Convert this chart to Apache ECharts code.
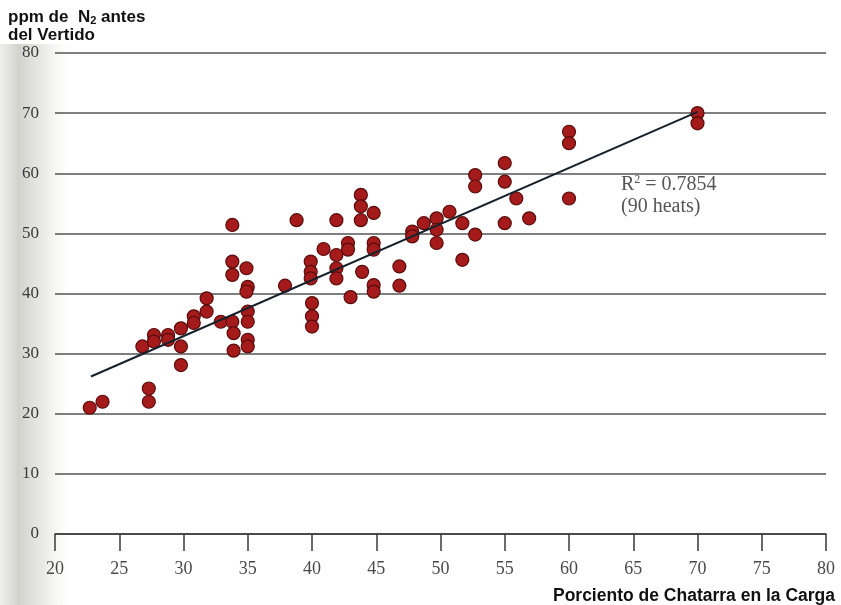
<!DOCTYPE html>
<html>
<head>
<meta charset="utf-8">
<script src="https://cdn.jsdelivr.net/npm/echarts@6/dist/echarts.min.js"></script>
<style>
  html, body { margin: 0; padding: 0; background: #ffffff; }
  #chart { width: 841px; height: 605px; }
</style>
</head>
<body>
<div id="chart"></div>
<script>
// Scrap percentage in the charge (x) and N2 ppm before tapping (y), one entry per heat
const scrapPct = [
  22.7, 23.7, 27.3, 27.3, 26.8, 27.7, 27.7, 28.8, 28.8, 29.8,
  29.8, 29.8, 30.8, 30.8, 31.8, 31.8, 32.9, 33.8, 33.9, 33.9,
  35.0, 35.0, 35.0, 35.0, 35.0, 33.8, 33.8, 33.8, 34.9, 34.9,
  37.9, 38.8, 39.9, 39.9, 39.9, 40.0, 40.0, 40.0, 40.9, 41.9,
  41.9, 41.9, 41.9, 42.8, 42.8, 43.0, 43.8, 43.8, 43.8, 43.9,
  44.8, 44.8, 44.8, 44.8, 44.8, 46.8, 46.8, 47.8, 47.8, 48.7,
  49.7, 49.7, 49.7, 50.7, 51.7, 51.7, 52.7, 52.7, 52.7, 55.0,
  55.0, 55.0, 55.9, 56.9, 60.0, 60.0, 60.0, 70.0, 70.0
];
const n2Ppm = [
  21.0, 22.0, 24.2, 22.0, 31.2, 33.1, 32.0, 33.1, 32.3, 34.2,
  31.2, 28.1, 36.2, 35.1, 39.2, 37.0, 35.3, 35.3, 33.4, 30.5,
  41.1, 37.0, 35.3, 32.3, 31.2, 51.4, 45.3, 43.1, 44.2, 40.3,
  41.3, 52.2, 45.3, 43.6, 42.5, 38.4, 36.2, 34.5, 47.4, 52.2,
  46.4, 44.2, 42.5, 48.4, 47.3, 39.4, 56.4, 54.5, 52.2, 43.6,
  53.4, 48.4, 47.3, 41.4, 40.3, 44.5, 41.3, 50.3, 49.5, 51.7,
  52.5, 50.6, 48.4, 53.6, 51.7, 45.6, 49.8, 59.7, 57.8, 61.7,
  58.6, 51.7, 55.8, 52.5, 66.9, 65.0, 55.8, 70.0, 68.3
];

// Fitted trend line, drawn between its two end points
const trendX = [22.8, 70];
const trendY = [26.2, 70.2];

// Axis tick values
const xTicks = [20, 25, 30, 35, 40, 45, 50, 55, 60, 65, 70, 75, 80];
const yTicks = [0, 10, 20, 30, 40, 50, 60, 70, 80];

const points = scrapPct.map((x, i) => [x, n2Ppm[i]]);
const trend = trendX.map((x, i) => [x, trendY[i]]);

const serif = '"Liberation Serif", "DejaVu Serif", serif';
const sans = '"Liberation Sans", Arial, sans-serif';

const chart = echarts.init(document.getElementById('chart'), null, { renderer: 'canvas' });

chart.setOption({
  animation: false,
  backgroundColor: '#ffffff',
  grid: { left: 55, right: 15, top: 53, bottom: 71, containLabel: false },
  xAxis: {
    type: 'value',
    min: xTicks[0],
    max: xTicks[xTicks.length - 1],
    interval: xTicks[1] - xTicks[0],
    axisLine: { show: true, onZero: false, lineStyle: { color: '#3a3a3a', width: 1.6 } },
    axisTick: { show: true, length: 17, lineStyle: { color: '#3a3a3a', width: 1.5 } },
    axisLabel: { margin: 26, fontFamily: serif, fontSize: 18, color: '#4a4a4a' },
    splitLine: { show: false }
  },
  yAxis: {
    type: 'value',
    min: yTicks[0],
    max: yTicks[yTicks.length - 1],
    interval: yTicks[1] - yTicks[0],
    axisLine: { show: false },
    axisTick: { show: false },
    axisLabel: { margin: 16, fontFamily: serif, fontSize: 17, color: '#3a3a3a' },
    splitLine: { show: true, lineStyle: { color: '#555', width: 1.6 } }
  },
  graphic: [
    {
      // shaded strip along the left edge
      type: 'rect',
      z: -10,
      silent: true,
      shape: { x: 0, y: 44, width: 75, height: 561 },
      style: {
        fill: new echarts.graphic.LinearGradient(0, 0, 1, 0, [
          { offset: 0, color: 'rgba(220,220,214,0.5)' },
          { offset: 0.25, color: 'rgba(195,195,188,0.75)' },
          { offset: 0.6, color: 'rgba(215,215,210,0.5)' },
          { offset: 1, color: 'rgba(255,255,255,0)' }
        ])
      }
    },
    {
      type: 'text',
      left: 8,
      top: 9,
      z: 10,
      style: {
        text: '{a|ppm de  N}{s|2}{a| antes}\n{a|del Vertido}',
        rich: {
          a: { fontFamily: sans, fontWeight: 'bold', fontSize: 17, lineHeight: 18, fill: '#111' },
          s: { fontFamily: sans, fontWeight: 'bold', fontSize: 11, lineHeight: 18, verticalAlign: 'bottom', fill: '#111' }
        }
      }
    },
    {
      type: 'text',
      right: 6,
      top: 587,
      z: 10,
      style: {
        text: 'Porciento de Chatarra en la Carga',
        fontFamily: sans,
        fontWeight: 'bold',
        fontSize: 17.5,
        fill: '#111'
      }
    },
    {
      type: 'text',
      left: 621,
      top: 174,
      z: 10,
      style: {
        text: '{a|R}{p|2}{a| = 0.7854}\n{a|(90 heats)}',
        rich: {
          a: { fontFamily: serif, fontSize: 20, lineHeight: 22, fill: '#555' },
          p: { fontFamily: serif, fontSize: 12, lineHeight: 22, verticalAlign: 'top', fill: '#555' }
        }
      }
    }
  ],
  series: [
    {
      type: 'scatter',
      data: points,
      symbol: 'circle',
      symbolSize: 13,
      itemStyle: { color: '#a51b1c', borderColor: '#5a0b0b', borderWidth: 1.2, opacity: 1 },
      z: 3
    },
    {
      type: 'line',
      data: trend,
      showSymbol: false,
      symbol: 'none',
      lineStyle: { color: '#17212b', width: 2 },
      z: 5
    }
  ]
});
</script>
</body>
</html>
